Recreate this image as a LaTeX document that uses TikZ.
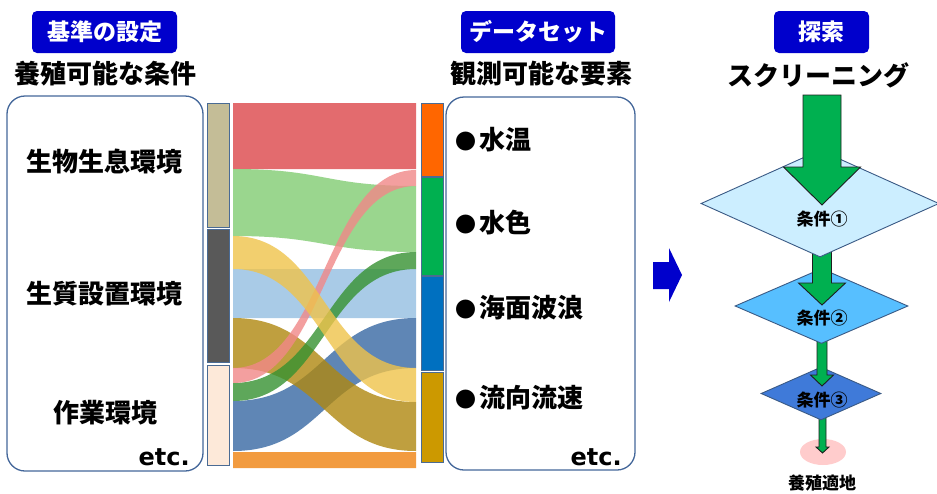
\documentclass[tikz,border=0pt]{standalone}
\usepackage{fontspec}
\setmainfont{Noto Sans CJK JP}
\newfontfamily\etcfont{DejaVu Sans}
\usetikzlibrary{shapes.geometric}
\definecolor{hdrblue}{HTML}{0000CC}
\definecolor{framec}{HTML}{44679A}
\definecolor{barc}{HTML}{4A6B94}
\definecolor{tanc}{HTML}{C4BD97}
\definecolor{dgrayc}{HTML}{595959}
\definecolor{peachc}{HTML}{FDE9D9}
\definecolor{rorange}{HTML}{FF6600}
\definecolor{rgreen}{HTML}{00B050}
\definecolor{rblue}{HTML}{0070C0}
\definecolor{rgold}{HTML}{CC9900}
\definecolor{sred}{RGB}{221,71,74}
\definecolor{slgreen}{RGB}{129,204,114}
\definecolor{spink}{RGB}{241,136,136}
\definecolor{syellow}{RGB}{239,195,74}
\definecolor{slblue}{RGB}{148,191,226}
\definecolor{sdgreen}{RGB}{54,146,49}
\definecolor{solive}{RGB}{175,136,16}
\definecolor{ssteel}{RGB}{55,104,163}
\definecolor{sorange}{RGB}{239,130,16}
\definecolor{dborder}{HTML}{3A5A85}
\definecolor{donec}{HTML}{CCEEFF}
\definecolor{dtwoc}{HTML}{57BFFF}
\definecolor{dthreec}{HTML}{3F7AD9}
\definecolor{pinkc}{HTML}{FFCCCC}
\definecolor{arrowedge}{HTML}{1E1E1E}
\newcommand{\sband}[5]{\fill[#1, fill opacity=0.8] (233,#2) .. controls (324.5,#2) and (324.5,#4) .. (416,#4) -- (416,#5) .. controls (324.5,#5) and (324.5,#3) .. (233,#3) -- cycle;}
\newcommand{\garrow}[6]{\draw[garrowstyle] (#1-#4,#2) -- (#1+#4,#2) -- (#1+#4,#3-#6) -- (#1+#5,#3-#6) -- (#1,#3) -- (#1-#5,#3-#6) -- (#1-#4,#3-#6) -- cycle;}
\newcommand{\bul}{{\fontsize{21}{22}\selectfont ●}\hspace{3pt}}
\begin{document}
\begin{tikzpicture}[x=1pt,y=-1pt,
  hdr/.style={fill=hdrblue, rounded corners=5pt, text=white, font=\bfseries\fontsize{23}{26}\selectfont, minimum height=42pt, inner sep=0pt},
  ttl/.style={font=\bfseries\fontsize{26}{30}\selectfont, inner sep=0pt},
  item/.style={font=\bfseries\fontsize{26}{30}\selectfont, inner sep=0pt},
  etcstyle/.style={font=\etcfont\bfseries\fontsize{24}{28}\selectfont, inner sep=0pt},
  frame/.style={draw=framec, line width=1.3pt, rounded corners=18pt, inner sep=0pt},
  bar/.style={draw=barc, line width=1pt},
  dia/.style={diamond, draw=dborder, line width=0.9pt, inner sep=0pt},
  cond/.style={font=\bfseries\fontsize{17}{20}\selectfont, inner sep=0pt},
  garrowstyle/.style={fill=rgreen, draw=arrowedge, line width=0.9pt, line join=miter}
]
\useasboundingbox (0,0) rectangle (937,493);
\fill[white] (0,0) rectangle (937,493);

% ---------- left column ----------
\node[hdr, minimum width=145pt] (h1) at (104.5,32) {基準の設定};
\node[ttl] (t1) at (105,74) {養殖可能な条件};
\node[frame, minimum width=196pt, minimum height=375pt] (lbox) at (105,283.5) {};
\node[item] (l1) at (105,162) {生物生息環境};
\node[item] (l2) at (105,294) {生質設置環境};
\node[item] (l3) at (105,413) {作業環境};
\node[etcstyle, anchor=east] (le) at (190,457) {etc.};

% left bar
\filldraw[bar, fill=tanc] (207,103) rectangle (229,227);
\filldraw[bar, fill=dgrayc] (207,229) rectangle (229,362);
\filldraw[bar, fill=peachc] (207,365) rectangle (229,465);

% ---------- sankey ----------
\sband{sred}{103}{169}{103}{169}
\sband{slgreen}{169}{236}{186}{252}
\sband{slblue}{269}{318}{269}{318}
\sband{ssteel}{401}{451}{318}{368}
\sband{solive}{318}{368}{402}{451}
\sband{sdgreen}{383}{401}{252}{269}
\sband{spink}{368}{383}{170}{186}
\sband{syellow}{236}{269}{368}{402}
\sband{sorange}{452}{468}{452}{468}

% right bar
\filldraw[bar, fill=rorange] (421,103) rectangle (443,176);
\filldraw[bar, fill=rgreen] (421,177) rectangle (443,275);
\filldraw[bar, fill=rblue] (421,276) rectangle (443,370);
\filldraw[bar, fill=rgold] (421,372) rectangle (443,462);

% ---------- middle column ----------
\node[hdr, minimum width=154pt] (h2) at (538,32) {データセット};
\node[ttl] (t2) at (541.5,74) {観測可能な要素};
\node[frame, minimum width=189pt, minimum height=373pt] (rbox) at (540.5,283.5) {};
\node[item, anchor=west] (r1) at (455,140) {\bul 水温};
\node[item, anchor=west] (r2) at (455,223) {\bul 水色};
\node[item, anchor=west] (r3) at (455,308) {\bul 海面波浪};
\node[item, anchor=west] (r4) at (455,398) {\bul 流向流速};
\node[etcstyle, anchor=east] (re) at (622,457) {etc.};

% blue arrow
\fill[hdrblue] (653,262) -- (669,262) -- (669,248) -- (682,275) -- (669,302) -- (669,289) -- (653,289) -- cycle;

% ---------- right column ----------
\node[hdr, minimum width=95pt] (h3) at (821.5,32) {探索};
\node[ttl] (t3) at (818,75) {スクリーニング};

\node[ellipse, fill=pinkc, minimum width=46pt, minimum height=26pt, inner sep=0pt] (goal) at (823,452) {};
\garrow{822.5}{416}{453}{3.5}{6.5}{6}
\node[dia, fill=dthreec, minimum width=120pt, minimum height=53pt] (d3) at (821,393.5) {};
\garrow{822}{340}{386}{5}{11.5}{11}
\node[dia, fill=dtwoc, minimum width=173pt, minimum height=75pt] (d2) at (821.5,306) {};
\garrow{822}{250}{305}{9.5}{23.5}{22}
\node[dia, fill=donec, minimum width=238pt, minimum height=107pt] (d1) at (820,203.5) {};
\garrow{822}{95}{205}{19}{38.5}{38}

\node[cond] (c1) at (822,219) {条件①};
\node[cond] (c2) at (822,318) {条件②};
\node[cond] (c3) at (822,400) {条件③};
\node[cond] (c4) at (822,483) {養殖適地};
\end{tikzpicture}
\end{document}
